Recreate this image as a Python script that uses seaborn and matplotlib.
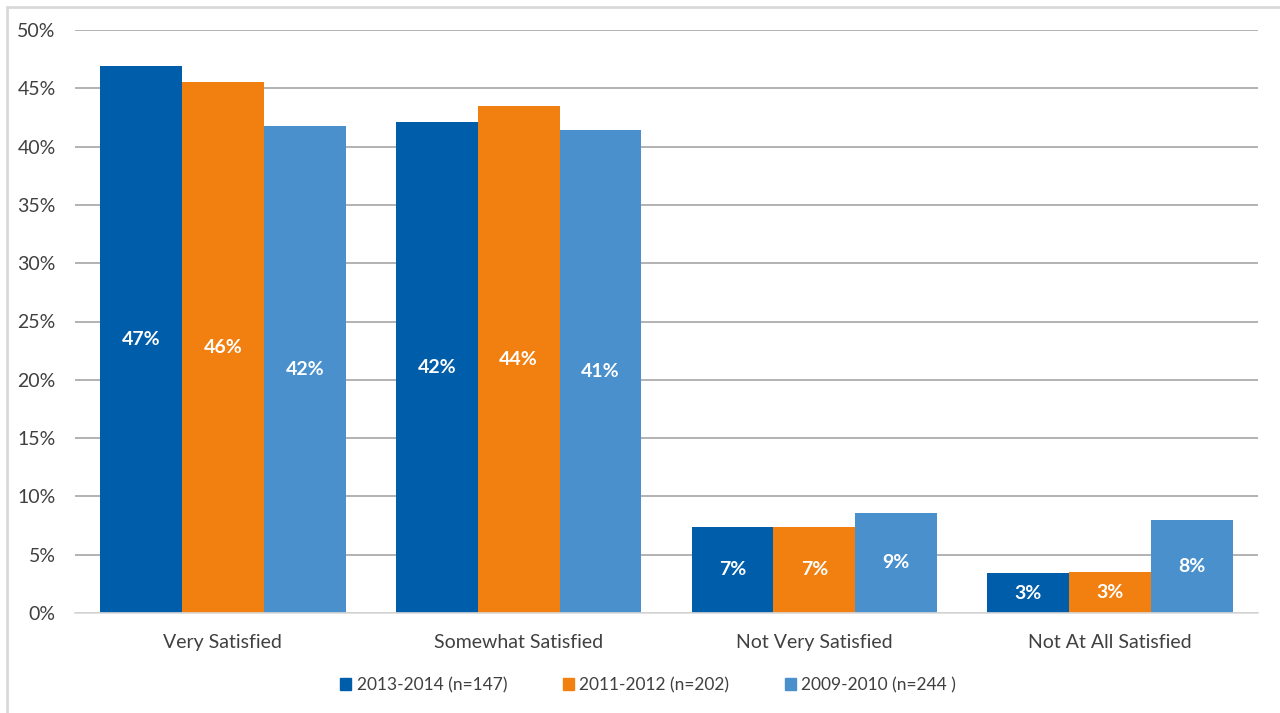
import matplotlib
matplotlib.use("Agg")
import matplotlib.pyplot as plt
import matplotlib.patches as mpatches
import seaborn as sns
import pandas as pd

categories = ["Very Satisfied", "Somewhat Satisfied", "Not Very Satisfied", "Not At All Satisfied"]
series_names = ["2013-2014 (n=147)", "2011-2012 (n=202)", "2009-2010 (n=244 )"]
values_2013 = [46.9, 42.1, 7.4, 3.4]
values_2011 = [45.5, 43.5, 7.4, 3.5]
values_2009 = [41.8, 41.4, 8.6, 8.0]
bar_labels_2013 = ["47%", "42%", "7%", "3%"]
bar_labels_2011 = ["46%", "44%", "7%", "3%"]
bar_labels_2009 = ["42%", "41%", "9%", "8%"]
y_ticks = [0, 5, 10, 15, 20, 25, 30, 35, 40, 45, 50]
colors = ["#005DAA", "#F28011", "#4A90CD"]

rows = []
for name, vals in zip(series_names, [values_2013, values_2011, values_2009]):
    for cat, v in zip(categories, vals):
        rows.append({"category": cat, "series": name, "value": v})
df = pd.DataFrame(rows)

sns.set_theme(style="white")
plt.rcParams["font.family"] = ["Lato", "DejaVu Sans"]

fig = plt.figure(figsize=(12.8, 7.13), dpi=100)
ax = fig.add_axes([75 / 1280, 1 - 613 / 713, 1183 / 1280, 583 / 713])

sns.barplot(data=df, x="category", y="value", hue="series", order=categories,
            hue_order=series_names, palette=colors, width=0.83, gap=0,
            saturation=1, ax=ax, legend=False, errorbar=None, linewidth=0)

for container, labels in zip(ax.containers, [bar_labels_2013, bar_labels_2011, bar_labels_2009]):
    ax.bar_label(container, labels=labels, label_type="center", color="white",
                 fontsize=14, fontweight="bold")

ax.set_ylim(0, 50)
ax.set_xlim(-0.5, 3.5)
ax.set_yticks(y_ticks)
ax.set_yticklabels([f"{t}%" for t in y_ticks])
ax.yaxis.grid(True, color="#A6A6A6", linewidth=1.2)
ax.set_axisbelow(True)
for s in ["top", "right", "left"]:
    ax.spines[s].set_visible(False)
ax.spines["bottom"].set_color("#D9D9D9")
ax.spines["bottom"].set_linewidth(1.2)
ax.tick_params(axis="y", length=0, labelsize=14, labelcolor="#404040", pad=14)
ax.tick_params(axis="x", length=0, labelsize=14, labelcolor="#404040", pad=15)
ax.set_xlabel("")
ax.set_ylabel("")

handles = [mpatches.Patch(color=c, label=n) for c, n in zip(colors, series_names)]
fig.legend(handles=handles, loc="center", bbox_to_anchor=(648 / 1280, 1 - 685 / 713),
           ncol=3, frameon=False, fontsize=12.5, handlelength=0.65, handleheight=0.65,
           handletextpad=0.3, columnspacing=3.2, labelcolor="#404040")

# light outer frame
fig.patches.append(mpatches.Rectangle((7 / 1280, -0.01), 1.02, 1 - 7 / 713 + 0.01,
                                      transform=fig.transFigure, fill=False,
                                      edgecolor="#D9D9D9", linewidth=2))

fig.savefig("out.png", dpi=100)
